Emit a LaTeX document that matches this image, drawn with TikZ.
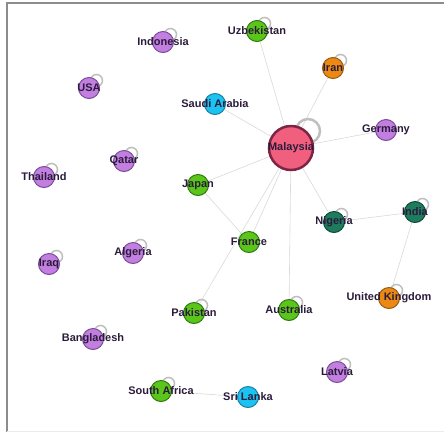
\documentclass[tikz,border=0pt]{standalone}
\usepackage{fontspec}
\setmainfont{Liberation Sans}
\usetikzlibrary{backgrounds}
\definecolor{purplefill}{HTML}{C27FE0}
\definecolor{purpleline}{HTML}{7A4C9A}
\definecolor{greenfill}{HTML}{5BC61A}
\definecolor{greenline}{HTML}{2F7A10}
\definecolor{cyanfill}{HTML}{1BC3F2}
\definecolor{cyanline}{HTML}{1A7FA0}
\definecolor{orangefill}{HTML}{EB8A12}
\definecolor{orangeline}{HTML}{9A5A10}
\definecolor{tealfill}{HTML}{1F7B5E}
\definecolor{tealline}{HTML}{0E4A38}
\definecolor{pinkfill}{HTML}{F0607E}
\definecolor{pinkline}{HTML}{7D2545}
\definecolor{labeltext}{HTML}{2B1B3B}
\begin{document}
\begin{tikzpicture}[
		x=1pt, y=-1pt,
		country/.style={circle, draw, line width=1pt, minimum size=21pt, inner sep=0pt},
		purplenode/.style={country, fill=purplefill, draw=purpleline},
		greennode/.style={country, fill=greenfill, draw=greenline},
		cyannode/.style={country, fill=cyanfill, draw=cyanline},
		orangenode/.style={country, fill=orangefill, draw=orangeline},
		tealnode/.style={country, fill=tealfill, draw=tealline},
		every label/.style={font=\fontsize{11}{12}\selectfont\bfseries, text=labeltext, inner sep=0pt},
		link/.style={draw=black!15, line width=0.6pt},
		selfloop/.style={draw=black!25, line width=1.5pt}
	]
	\useasboundingbox (0,0) rectangle (444,432);
	\draw[black!45, line width=2pt] (6.5,432) -- (6.5,3) -- (444,3);
	\draw[black!8, line width=0.6pt] (6.5,431.5) -- (444,431.5);

	\node[country, minimum size=44pt, fill=pinkfill, draw=pinkline, line width=2.5pt,
		label={center:Malaysia}] (malaysia) at (291,148) {};

	\node[greennode, label={center:Uzbekistan}] (uzbekistan) at (257,31) {};
	\node[orangenode, label={center:Iran}] (iran) at (333,68) {};
	\node[purplenode, label={center:Indonesia}] (indonesia) at (163,42) {};
	\node[purplenode, label={center:USA}] (usa) at (89,88) {};
	\node[cyannode, label={center:Saudi Arabia}] (saudi) at (215,104) {};
	\node[purplenode, label={center:Germany}] (germany) at (386,130) {};
	\node[purplenode, label={center:Qatar}] (qatar) at (124,161) {};
	\node[purplenode, label={center:Thailand}] (thailand) at (44,177) {};
	\node[greennode, label={center:Japan}] (japan) at (198,185) {};
	\node[tealnode, label={center:Nigeria}] (nigeria) at (334,222) {};
	\node[tealnode, label={center:India}] (india) at (415,212) {};
	\node[greennode, label={center:France}] (france) at (249,242) {};
	\node[purplenode, label={center:Algeria}] (algeria) at (133,253) {};
	\node[purplenode, label={center:Iraq}] (iraq) at (49,264) {};
	\node[orangenode, label={center:United Kingdom}] (uk) at (389,298) {};
	\node[greennode, label={center:Pakistan}] (pakistan) at (194,313) {};
	\node[greennode, label={center:Australia}] (australia) at (289,310) {};
	\node[purplenode, label={center:Bangladesh}] (bangladesh) at (93,339) {};
	\node[purplenode, label={center:Latvia}] (latvia) at (337,372) {};
	\node[greennode, label={center:South Africa}] (southafrica) at (161,391) {};
	\node[cyannode, label={center:Sri Lanka}] (srilanka) at (248,397) {};

	\begin{scope}[on background layer]
		% links
		\foreach \a/\b in {malaysia/uzbekistan, malaysia/iran, malaysia/saudi,
				malaysia/germany, malaysia/japan, malaysia/france, malaysia/pakistan,
				malaysia/australia, malaysia/nigeria, japan/france, nigeria/india,
				india/uk, southafrica/srilanka}
			\draw[link] (\a) -- (\b);
		% self loops
		\draw[selfloop, line width=2.5pt] (malaysia.center) ++(17,-17) circle (12);
		\foreach \n in {uzbekistan, iran, indonesia, usa, qatar, thailand, nigeria,
				india, algeria, iraq, uk, pakistan, australia, bangladesh, latvia, southafrica}
			\draw[selfloop] (\n.center) ++(7.5,-7.5) circle (6);
	\end{scope}
\end{tikzpicture}
\end{document}
